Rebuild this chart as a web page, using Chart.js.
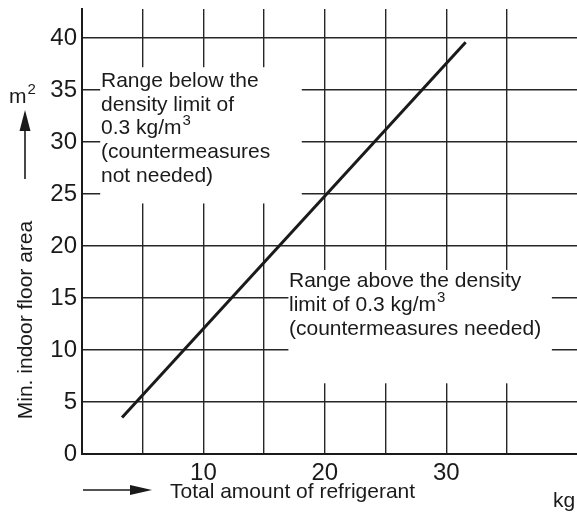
<!DOCTYPE html>
<html>
<head>
<meta charset="utf-8">
<title>Minimum indoor floor area</title>
<script src="https://cdn.jsdelivr.net/npm/chart.js@4.4.1/dist/chart.umd.min.js"></script>
<style>
  html, body { margin: 0; padding: 0; background: #fff; }
  #wrap { width: 577px; height: 512px; }
</style>
</head>
<body>
<div id="wrap"><canvas id="areaChart" width="577" height="512"></canvas></div>
<script>
// density limit line: total refrigerant (kg) -> min. floor area (m2)
const amountKg = [3.3, 31.6];
const floorAreaM2 = [3.5, 39.6];

// grid / tick values
const xTicks = [0, 5, 10, 15, 20, 25, 30, 35];
const xTickLabels = [10, 20, 30];
const yTicks = [0, 5, 10, 15, 20, 25, 30, 35, 40];

const FONT = "'Liberation Sans', Arial, sans-serif";
const INK = "#1a1a1a";

// text drawn with a raised exponent, e.g. m + 3
function textWithSup(ctx, base, sup, x, y, size) {
    ctx.font = size + "px " + FONT;
    ctx.fillText(base, x, y);
    const w = ctx.measureText(base).width;
    ctx.font = Math.round(size * 0.7) + "px " + FONT;
    ctx.fillText(sup, x + w + 1, y - size * 0.42);
    ctx.font = size + "px " + FONT;
}

// white areas behind the two range notes (in data units)
const noteBoxes = [
    { x0: 1.5, x1: 18.1, y0: 24.1, y1: 37.2 },
    { x0: 17.0, x1: 38.7, y0: 6.8, y1: 17.7 }
];

const clearBoxes = {
    id: "clearBoxes",
    beforeDatasetsDraw(chart) {
        const { ctx, scales: { x, y } } = chart;
        ctx.save();
        ctx.fillStyle = "#fff";
        noteBoxes.forEach(b => {
            const left = x.getPixelForValue(b.x0);
            const right = x.getPixelForValue(b.x1);
            const top = y.getPixelForValue(b.y1);
            const bottom = y.getPixelForValue(b.y0);
            ctx.fillRect(left, top, right - left, bottom - top);
        });
        ctx.restore();
    }
};

const labels = {
    id: "labels",
    afterDraw(chart) {
        const ctx = chart.ctx;
        ctx.save();
        ctx.fillStyle = INK;
        ctx.strokeStyle = INK;
        ctx.textBaseline = "alphabetic";
        ctx.textAlign = "left";
        ctx.font = "21px " + FONT;

        // range notes
        ctx.fillText("Range below the", 101, 87);
        ctx.fillText("density limit of", 101, 111);
        textWithSup(ctx, "0.3 kg/m", "3", 101, 134, 21);
        ctx.fillText("(countermeasures", 101, 158);
        ctx.fillText("not needed)", 101, 182);

        ctx.fillText("Range above the density", 289, 287);
        textWithSup(ctx, "limit of 0.3 kg/m", "3", 289, 311, 21);
        ctx.fillText("(countermeasures needed)", 289, 335);

        // y axis title + unit
        ctx.save();
        ctx.translate(32, 320);
        ctx.rotate(-Math.PI / 2);
        ctx.textAlign = "center";
        ctx.fillText("Min. indoor floor area", 0, 0);
        ctx.restore();
        textWithSup(ctx, "m", "2", 9, 103, 21);

        // up arrow
        ctx.lineWidth = 1.6;
        ctx.beginPath();
        ctx.moveTo(25, 179);
        ctx.lineTo(25, 128);
        ctx.stroke();
        ctx.beginPath();
        ctx.moveTo(25, 110);
        ctx.lineTo(19.5, 131);
        ctx.lineTo(30.5, 131);
        ctx.closePath();
        ctx.fill();

        // x axis title + unit
        ctx.fillText("Total amount of refrigerant", 170, 498);
        ctx.fillText("kg", 553, 507);

        // right arrow
        ctx.beginPath();
        ctx.moveTo(83, 490);
        ctx.lineTo(132, 490);
        ctx.stroke();
        ctx.beginPath();
        ctx.moveTo(152, 490);
        ctx.lineTo(130, 485);
        ctx.lineTo(130, 495);
        ctx.closePath();
        ctx.fill();

        ctx.restore();
    }
};

new Chart(document.getElementById("areaChart"), {
    type: "scatter",
    data: {
        datasets: [{
            data: amountKg.map((v, i) => ({ x: v, y: floorAreaM2[i] })),
            showLine: true,
            borderColor: INK,
            borderWidth: 3,
            pointRadius: 0,
            fill: false
        }]
    },
    options: {
        responsive: false,
        animation: false,
        layout: { padding: { top: 9, right: 0, bottom: 0, left: 0 } },
        plugins: {
            legend: { display: false },
            tooltip: { enabled: false }
        },
        scales: {
            x: {
                type: "linear",
                min: 0,
                max: 40.77,
                afterBuildTicks: s => { s.ticks = xTicks.map(v => ({ value: v })); },
                afterFit: s => {
                    s.height = 58;
                    s.paddingLeft = 0;
                    s.paddingRight = 0;
                },
                grid: { color: "#262626", lineWidth: 1.4, drawTicks: false },
                border: { color: INK, width: 2 },
                ticks: {
                    padding: 5,
                    color: INK,
                    font: { family: FONT, size: 24 },
                    maxRotation: 0,
                    autoSkip: false,
                    callback: v => xTickLabels.includes(v) ? String(v) : ""
                }
            },
            y: {
                type: "linear",
                min: 0,
                max: 42.8,
                afterBuildTicks: s => { s.ticks = yTicks.map(v => ({ value: v })); },
                afterFit: s => {
                    s.width = 82;
                    s.paddingTop = 0;
                    s.paddingBottom = 0;
                },
                grid: { color: "#262626", lineWidth: 1.4, drawTicks: false },
                border: { color: INK, width: 2 },
                ticks: {
                    padding: 5,
                    color: INK,
                    font: { family: FONT, size: 24 },
                    autoSkip: false,
                    callback: v => String(v)
                }
            }
        }
    },
    plugins: [clearBoxes, labels]
});
</script>
</body>
</html>
